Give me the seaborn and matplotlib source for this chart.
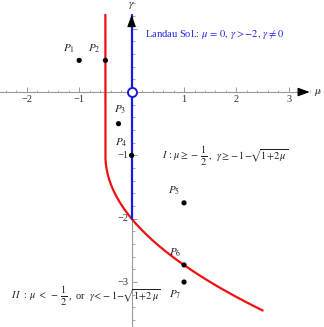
import numpy as np
import pandas as pd
import matplotlib
matplotlib.use("Agg")
import matplotlib.pyplot as plt
import seaborn as sns
from matplotlib.ticker import MultipleLocator

# ---- data ----
point_names = ["P_1", "P_2", "P_3", "P_4", "P_5", "P_6", "P_7"]
point_mu = [-1.0, -0.5, -0.25, 0.0, 1.0, 1.0, 1.0]
point_gamma = [0.5, 0.5, -0.5, -1.0, -1.75, -2.73, -3.0]
# label offsets in pixels (dx, dy)
label_offsets = [(-10, 12), (-11, 12), (2, 14), (-10, 13), (-10, 12), (-9, 12), (-9, -13)]

x_major_ticks = [-2, -1, 1, 2, 3]
y_major_ticks = [-1, -2, -3]

gamma_top = 1.22
mu_right_curve = 2.5
landau_gamma_min = -2.0

sns.set_theme(style="white")
plt.rcParams["font.family"] = ["Liberation Serif", "DejaVu Serif"]
plt.rcParams["mathtext.fontset"] = "stix"

fig = plt.figure(figsize=(3.24, 3.27), dpi=100)
ax = fig.add_axes([0, 0, 1, 1])
ax.set_facecolor("white")

xmin, xmax = -2.51, 3.67
ymin, ymax = -3.71, 1.453
ax.set_xlim(xmin, xmax)
ax.set_ylim(ymin, ymax)

# axes through origin
axis_col = "#999999"
for s in ["top", "right"]:
    ax.spines[s].set_visible(False)
ax.spines["left"].set_position(("data", 0))
ax.spines["bottom"].set_position(("data", 0))
ax.spines["left"].set_color(axis_col)
ax.spines["bottom"].set_color(axis_col)
ax.spines["left"].set_linewidth(0.8)
ax.spines["bottom"].set_linewidth(0.8)
ax.spines["bottom"].set_bounds(xmin, 3.33)
ax.spines["left"].set_bounds(ymin, gamma_top - 0.05)

ax.xaxis.set_major_locator(plt.FixedLocator(x_major_ticks + [0]))
ax.yaxis.set_major_locator(plt.FixedLocator(y_major_ticks + [0, 1]))
ax.xaxis.set_minor_locator(MultipleLocator(0.2))
ax.yaxis.set_minor_locator(MultipleLocator(0.2))
ax.set_xticklabels(["\u2212" + str(-t) if t < 0 else (str(t) if t != 0 else "") for t in x_major_ticks + [0]])
ax.set_yticklabels(["\u2212" + str(-t) if t < 0 else "" for t in y_major_ticks + [0, 1]])
ax.tick_params(axis="both", which="major", direction="in", length=3.5, width=0.7,
               color=axis_col, labelsize=7.5, labelcolor="#333333", pad=2)
ax.tick_params(axis="both", which="minor", direction="in", length=1.8, width=0.6, color=axis_col)
ax.tick_params(axis="x", which="both", bottom=True, top=False)
ax.tick_params(axis="y", which="both", left=True, right=False)
for lab in ax.get_yticklabels():
    lab.set_verticalalignment("center")

# arrows
ax.annotate("", xy=(3.45, 0), xytext=(3.2, 0),
            arrowprops=dict(arrowstyle="-|>,head_length=0.6,head_width=0.22", color="black", lw=0.8))
ax.annotate("", xy=(0, gamma_top + 0.04), xytext=(0, gamma_top - 0.2),
            arrowprops=dict(arrowstyle="-|>,head_length=0.6,head_width=0.22", color="black", lw=0.8),
            zorder=6)
ax.text(3.56, 0, r"$\mu$", fontsize=8, ha="center", va="center")
ax.text(0, 1.37, r"$\gamma$", fontsize=8, ha="center", va="center")

# red boundary curve
g_vert = np.linspace(gamma_top, -1.0, 50)
mu_vert = np.full_like(g_vert, -0.5)
mu_curve = np.concatenate([[-0.5], -0.5 + np.geomspace(1e-5, 3.0, 300)])
g_curve = -1 - np.sqrt(np.clip(1 + 2 * mu_curve, 0, None))
curve = pd.DataFrame({"mu": np.concatenate([mu_vert, mu_curve]),
                      "gamma": np.concatenate([g_vert, g_curve])})
curve = curve[curve["mu"] <= mu_right_curve]
sns.lineplot(data=curve, x="mu", y="gamma", sort=False, estimator=None,
             color="#f01010", linewidth=1.6, ax=ax, zorder=3)

# blue Landau line
landau = pd.DataFrame({"mu": [0.0, 0.0], "gamma": [landau_gamma_min, gamma_top]})
sns.lineplot(data=landau, x="mu", y="gamma", sort=False, estimator=None,
             color="#1a1adf", linewidth=1.6, ax=ax, zorder=4)
ax.plot([0], [0], marker="o", markersize=6.5, markerfacecolor="white",
        markeredgecolor="#1a1adf", markeredgewidth=1.4, zorder=7)

# points
pts = pd.DataFrame({"name": point_names, "mu": point_mu, "gamma": point_gamma})
sns.scatterplot(data=pts, x="mu", y="gamma", color="black", s=14, edgecolor="none",
                ax=ax, zorder=8, legend=False)
for n, x, y, (dx, dy) in zip(point_names, point_mu, point_gamma, label_offsets):
    ax.annotate(rf"${n}$", xy=(x, y), xytext=(dx * 0.72, dy * 0.72), textcoords="offset points",
                ha="center", va="center", fontsize=8, color="#222222")

# annotations
ax.text(0.26, 0.92, r"Landau Sol.: $\mu\,=\,0,\,\gamma > -2,\,\gamma \neq 0$",
        color="#2222ee", fontsize=7.6, ha="left", va="center")


def chain_text(x, y, pieces, color="#222222"):
    """Draw a sequence of (text, fontsize, dy_px) pieces side by side."""
    prev = None
    for s, fs, dy in pieces:
        if prev is None:
            prev = ax.text(x, y, s, fontsize=fs, ha="left", va="center", color=color)
        else:
            prev = ax.annotate(s, xy=(1, 0.5), xycoords=prev, xytext=(0.5, dy * 0.72),
                               textcoords="offset points", fontsize=fs,
                               ha="left", va="center", color=color)
    return prev


frac = r"$\frac{1}{2}$"
chain_text(0.58, -1.0, [
    (r"$I\,:\,\mu \geq -$", 7.4, 0),
    (frac, 10.5, -1.5),
    (r"$,\ \ \gamma\!\geq\!-1\!-\!\!\sqrt{1\!+\!2\,\mu}$", 7.4, 1.5),
])
chain_text(-2.3, -3.21, [
    (r"$I\,I\ :\ \mu\; <\; -$", 7.4, 0),
    (frac, 10.5, -1.5),
    (r",  or  $\gamma\!<\!-1\!-\!\!\sqrt{1\!+\!2\,\mu}$", 7.4, 1.5),
])

ax.set_xlabel("")
ax.set_ylabel("")
fig.savefig("out.png", dpi=100, facecolor="white")
